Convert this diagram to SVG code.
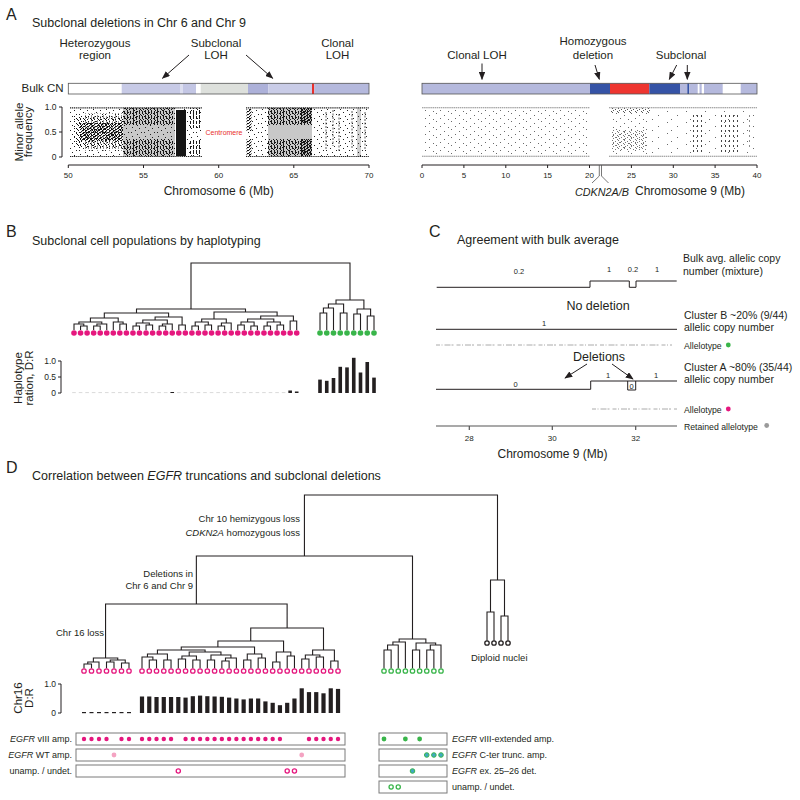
<svg xmlns="http://www.w3.org/2000/svg" width="800" height="800" viewBox="0 0 800 800">
<defs>
<style>
text{font-family:"Liberation Sans",Arial,sans-serif;fill:#231f20}
.pl{font-size:16px}
.ti{font-size:12.5px}
.hd{font-size:11.5px;text-anchor:middle}
.tkr{font-size:8.5px;text-anchor:end}
.tkm{font-size:8px;text-anchor:middle}
.ax{font-size:12px;text-anchor:middle}
.yl{font-size:11.5px;text-anchor:middle}
.lb{font-size:9.5px}
.lbr{font-size:9.5px;text-anchor:end}
.cl{font-size:10.5px}
.al{font-size:8.7px}
.sm{font-size:7.5px;text-anchor:middle}
.eg{font-size:9px}
.egr{font-size:9px;text-anchor:end}
.ln{fill:none;stroke:#231f20;stroke-width:1}
.tr{fill:none;stroke:#231f20;stroke-width:1.1}
.box{fill:#fff;stroke:#7a7a7a;stroke-width:1}
.mg{fill:#e5177e}
.gr{fill:#39b54a}
.pk{fill:#f4a3c2}
.tl{fill:#3fa9c2;stroke:#39b54a;stroke-width:1}
.om{fill:#fff;stroke:#e5177e;stroke-width:1.3}
.og{fill:#fff;stroke:#39b54a;stroke-width:1.3}
.ok{fill:#fff;stroke:#231f20;stroke-width:1.3}
.bar{fill:#231f20}
.arr{stroke:#231f20;stroke-width:1;fill:none;marker-end:url(#ah)}
.dl{fill:none;stroke:#222;stroke-width:1.2;stroke-dasharray:1.2 0.7}
.gl{fill:none;stroke:#8a8a8a;stroke-width:1.1;stroke-dasharray:1.5 0.6}
.al1{fill:none;stroke:#aaa;stroke-width:1;stroke-dasharray:4 1.5 1 2 6 1 2 3}
</style>
<marker id="ah" viewBox="0 0 10 8" refX="9" refY="4" markerWidth="8" markerHeight="6.4" orient="auto" markerUnits="userSpaceOnUse"><path d="M0,0 L10,4 L0,8 z" fill="#231f20"/></marker>
<pattern id="pS" width="13" height="9" patternUnits="userSpaceOnUse"><path d="M2 1h1v1h-1zM9 2h1v1h-1zM5 4h1v1h-1zM11 6h1v1h-1zM1 6h1v1h-1zM7 8h1v1h-1z" fill="#222"/></pattern>
<pattern id="pM" width="7" height="5" patternUnits="userSpaceOnUse"><path d="M1 0h1v1h-1zM4 1h1v1h-1zM2 2h1v1h-1zM6 3h1v1h-1zM0 4h1v1h-1zM3 4h1v1h-1z" fill="#111"/></pattern>
<pattern id="pD" width="4" height="3" patternUnits="userSpaceOnUse"><path d="M0 0h1.2v1h-1.2zM2 1h1.2v1h-1.2zM1 2h1.2v1h-1.2zM3 0h1v1h-1z" fill="#111"/></pattern>
<pattern id="pV" width="6" height="5" patternUnits="userSpaceOnUse"><path d="M1 0h1v4h-1zM4 1h1v3h-1z" fill="#1a1a1a"/></pattern>
<pattern id="pG" width="15" height="8" patternUnits="userSpaceOnUse"><path d="M1 1h1v1h-1zM9 3h1v1h-1zM5 6h1v1h-1zM13 7h1v1h-1z" fill="#6a6a6a"/></pattern>
<pattern id="pGS" width="19" height="11" patternUnits="userSpaceOnUse"><path d="M2 1h1v1h-1zM12 5h1v1h-1zM6 9h1v1h-1z" fill="#6a6a6a"/></pattern>
<pattern id="pGD" width="6" height="4" patternUnits="userSpaceOnUse"><path d="M0 0h1v1h-1zM3 1h1v1h-1zM1 2h1v1h-1zM5 3h1v1h-1z" fill="#555"/></pattern>
<pattern id="pGV" width="4" height="5" patternUnits="userSpaceOnUse"><path d="M1 0h1v2h-1z" fill="#444"/></pattern>
</defs>
<rect width="800" height="800" fill="#fff"/>

<g id="panelA">
<text class="pl" x="6" y="20">A</text>
<text class="ti" x="32" y="27">Subclonal deletions in Chr 6 and Chr 9</text>
<text class="hd" x="95" y="47">Heterozygous</text><text class="hd" x="95" y="59">region</text>
<text class="hd" x="216" y="47">Subclonal</text><text class="hd" x="216" y="59">LOH</text>
<text class="hd" x="337.5" y="47">Clonal</text><text class="hd" x="337.5" y="59">LOH</text>
<text x="21.5" y="92" font-size="11.5">Bulk CN</text>
<g id="bulk6">
<rect x="68.3" y="83.3" width="53.4" height="10.7" fill="#fff"/>
<rect x="121.7" y="83.3" width="58.3" height="10.7" fill="#c7cae6"/>
<rect x="180" y="83.3" width="3" height="10.7" fill="#dcdef0"/>
<rect x="183" y="83.3" width="13" height="10.7" fill="#c3c6e4"/>
<rect x="196" y="83.3" width="4.7" height="10.7" fill="#fff"/>
<rect x="200.7" y="83.3" width="47.3" height="10.7" fill="#dde0dc"/>
<rect x="248" y="83.3" width="20.3" height="10.7" fill="#adb1d9"/>
<rect x="268.3" y="83.3" width="43.7" height="10.7" fill="#c9cce7"/>
<rect x="312" y="83.3" width="2.3" height="10.7" fill="#e8302c"/>
<rect x="314.3" y="83.3" width="54.7" height="10.7" fill="#b5b9dd"/>
<rect x="68.3" y="83.3" width="300.7" height="10.7" fill="none" stroke="#555" stroke-width="0.8"/>
</g>
<text class="yl" transform="translate(22.5,132) rotate(-90)">Minor allele</text>
<text class="yl" transform="translate(32,132) rotate(-90)">frequency</text>
<path class="ln" d="M59 107H62V157H59M59 132H62"/>
<text class="tkr" x="56.5" y="110">1.0</text><text class="tkr" x="56.5" y="135">0.5</text><text class="tkr" x="56.5" y="160">0</text>
<g id="scatter6">
<rect x="123" y="107.5" width="52" height="49.5" fill="#c8c8c8"/>
<rect x="268" y="107.5" width="44" height="49.5" fill="#c8c8c8"/>
<rect x="357" y="107.5" width="4" height="49.5" fill="#cfcfcf"/>
<rect x="70" y="109" width="53" height="47" fill="url(#pS)"/>
<rect x="74" y="116" width="49" height="32" fill="url(#pM)"/>
<rect x="80" y="123" width="43" height="18" fill="url(#pD)"/>
<rect x="84" y="113" width="38" height="38" fill="url(#pV)" opacity="0.45"/>
<rect x="123" y="108" width="52" height="17" fill="url(#pV)"/>
<rect x="123" y="108" width="52" height="17" fill="url(#pM)"/>
<rect x="123" y="125" width="52" height="14" fill="url(#pS)"/>
<rect x="123" y="139" width="52" height="17" fill="url(#pV)"/>
<rect x="123" y="139" width="52" height="17" fill="url(#pM)"/>
<rect x="175" y="108" width="27" height="48" fill="url(#pS)"/>
<rect x="176" y="110" width="10" height="46" fill="#151515"/>
<rect x="189" y="108" width="13" height="20" fill="url(#pV)"/>
<rect x="189" y="140" width="13" height="16" fill="url(#pV)"/>
<rect x="246" y="108" width="22" height="48" fill="url(#pS)"/>
<rect x="246.5" y="109" width="5" height="22" fill="url(#pD)"/>
<rect x="246.5" y="139" width="5" height="17" fill="url(#pD)"/>
<rect x="268" y="108" width="44" height="17" fill="url(#pV)"/>
<rect x="268" y="108" width="44" height="17" fill="url(#pM)"/>
<rect x="268" y="139" width="44" height="17" fill="url(#pV)"/>
<rect x="268" y="139" width="44" height="17" fill="url(#pM)"/>
<rect x="300" y="108" width="12" height="15" fill="url(#pD)"/>
<rect x="300" y="139" width="12" height="17" fill="url(#pD)"/>
<rect x="314" y="108" width="55" height="48" fill="url(#pS)"/>
<path d="M326 112V150M333 110V146M339 114V152M352 111V149M365 112V150" stroke="#333" stroke-width="0.8" stroke-dasharray="2 1.5" fill="none"/>
<path class="dl" d="M70 107.8H202M246 107.8H369M70 156.5H202M246 156.5H369"/>
</g>
<text x="224" y="135" font-size="7" text-anchor="middle" style="fill:#e8302c">Centromere</text>
<path class="ln" d="M68.3 165H369M68.3 165v3M143.5 165v3M218.7 165v3M293.8 165v3M369 165v3"/>
<text class="tkm" x="68.3" y="177.5">50</text><text class="tkm" x="143.5" y="177.5">55</text><text class="tkm" x="218.7" y="177.5">60</text><text class="tkm" x="293.8" y="177.5">65</text><text class="tkm" x="369" y="177.5">70</text>
<text class="ax" x="218.7" y="195">Chromosome 6 (Mb)</text>

<text class="hd" x="477" y="59">Clonal LOH</text>
<text class="hd" x="593" y="44.5">Homozygous</text><text class="hd" x="593" y="59">deletion</text>
<text class="hd" x="681" y="59">Subclonal</text>
<g id="bulk9">
<rect x="422" y="83.3" width="168" height="10.7" fill="#b5b9dd"/>
<rect x="590" y="83.3" width="20" height="10.7" fill="#3553a6"/>
<rect x="610" y="83.3" width="39.3" height="10.7" fill="#ee3530"/>
<rect x="649.3" y="83.3" width="30.7" height="10.7" fill="#3553a6"/>
<rect x="680" y="83.3" width="7.3" height="10.7" fill="#b5b9dd"/>
<rect x="687.3" y="83.3" width="2" height="10.7" fill="#3553a6"/>
<rect x="689.3" y="83.3" width="8.4" height="10.7" fill="#b5b9dd"/>
<rect x="699.5" y="83.3" width="2.2" height="10.7" fill="#b5b9dd"/>
<rect x="704" y="83.3" width="18.7" height="10.7" fill="#b5b9dd"/>
<rect x="740.7" y="83.3" width="16.3" height="10.7" fill="#b5b9dd"/>
<rect x="422" y="83.3" width="335" height="10.7" fill="none" stroke="#555" stroke-width="0.8"/>
</g>
<g id="scatter9">
<rect x="422" y="110" width="168" height="44" fill="url(#pG)"/>
<rect x="610" y="108" width="40" height="5" fill="url(#pGD)"/>
<rect x="610" y="113" width="40" height="41" fill="url(#pG)"/>
<rect x="612" y="130" width="34" height="20" fill="url(#pGD)" opacity="0.8"/>
<rect x="650" y="110" width="32" height="44" fill="url(#pGS)"/>
<rect x="682" y="110" width="75" height="44" fill="url(#pGS)"/>
<rect x="693" y="112" width="12" height="40" fill="url(#pGV)"/>
<rect x="721" y="112" width="20" height="40" fill="url(#pGV)"/>
<rect x="746" y="114" width="7" height="36" fill="url(#pGV)" opacity="0.6"/>
<path class="gl" d="M422 107.7H590M609 107.7H757M422 156.3H590M609 156.3H757"/>
</g>
<path class="ln" d="M422 165H757M422 165v3M463.9 165v3M505.8 165v3M547.6 165v3M589.5 165v3M631.4 165v3M673.3 165v3M715.1 165v3M757 165v3"/>
<text class="tkm" x="422" y="177.5">0</text><text class="tkm" x="463.9" y="177.5">5</text><text class="tkm" x="505.8" y="177.5">10</text><text class="tkm" x="547.6" y="177.5">15</text><text class="tkm" x="589.5" y="177.5">20</text><text class="tkm" x="631.4" y="177.5">25</text><text class="tkm" x="673.3" y="177.5">30</text><text class="tkm" x="715.1" y="177.5">35</text><text class="tkm" x="757" y="177.5">40</text>
<path d="M599.3 165V176L592 183M601.5 165V176L608.5 183" fill="none" stroke="#555" stroke-width="0.8"/>
<text x="575" y="196" font-size="10.8" font-style="italic">CDKN2A/B</text>
<text x="635" y="195" font-size="12">Chromosome 9 (Mb)</text>
</g>

<g id="arrows">
<path class="arr" d="M189 55L162.5 78.3"/>
<path class="arr" d="M246 55L272.7 78.3"/>
<path class="arr" d="M482 63.5V79.3"/>
<path class="arr" d="M595 65L599.3 79.3"/>
<path class="arr" d="M676.7 65L669.3 79.3"/>
<path class="arr" d="M687.3 65V79.3"/>
<path class="arr" d="M587 364L565 378"/>
<path class="arr" d="M612 364L633 379"/>
</g>

<g id="panelB">
<text class="pl" x="6" y="237">B</text>
<text class="ti" x="32" y="244.5">Subclonal cell populations by haplotyping</text>
<path class="tr" d="M80.55 330V326H87.1V330M74 330V324H83.8V326M93.65 330V326H100.2V330M96.9 326V324H106.75V330M78.9 324V322H101.8V324M119.85 330V324H126.4V330M113.3 330V322H123.1V324M90.4 322V318H118.2V322M132.95 330V326H139.5V330M146.05 330V325H152.6V330M136.2 326V323H149.3V325M159.15 330V326H165.7V330M162.4 326V324H172.25V330M142.8 323V320H167.3V324M178.8 330V325H185.35V330M155.1 320V317H182.1V325M104.3 318V313H168.6V317M191.9 330V326H198.45V330M205 330V325H211.55V330M195.2 326V322H208.3V325M218.1 330V326H224.65V330M221.4 326V323H231.2V330M201.7 322V319H226.3V323M237.75 330V325H244.3V330M250.85 330V326H257.4V330M241 325V322H254.1V326M263.95 330V326H270.5V330M277.05 330V325H283.6V330M267.2 326V322H280.3V325M247.6 322V319H273.8V322M290.15 330V321H296.7V330M260.7 319V316H293.4V321M214 319V312H277.1V316M136.5 313V309H245.5V312M320 330V313H326.75V330M323.4 313V308H333.5V330M340.25 330V313H347V330M328.4 308V304H343.6V313M353.75 330V314H360.5V330M367.25 330V316H374V330M357.1 314V309H370.6V316M336 304V300H363.9V309M191 309V263H350V300"/>
<g class="mg">
<circle cx="74" cy="333" r="2.8"/><circle cx="80.55" cy="333" r="2.8"/><circle cx="87.1" cy="333" r="2.8"/><circle cx="93.65" cy="333" r="2.8"/><circle cx="100.2" cy="333" r="2.8"/><circle cx="106.75" cy="333" r="2.8"/><circle cx="113.3" cy="333" r="2.8"/><circle cx="119.85" cy="333" r="2.8"/><circle cx="126.4" cy="333" r="2.8"/><circle cx="132.95" cy="333" r="2.8"/><circle cx="139.5" cy="333" r="2.8"/><circle cx="146.05" cy="333" r="2.8"/><circle cx="152.6" cy="333" r="2.8"/><circle cx="159.15" cy="333" r="2.8"/><circle cx="165.7" cy="333" r="2.8"/><circle cx="172.25" cy="333" r="2.8"/><circle cx="178.8" cy="333" r="2.8"/><circle cx="185.35" cy="333" r="2.8"/><circle cx="191.9" cy="333" r="2.8"/><circle cx="198.45" cy="333" r="2.8"/><circle cx="205" cy="333" r="2.8"/><circle cx="211.55" cy="333" r="2.8"/><circle cx="218.1" cy="333" r="2.8"/><circle cx="224.65" cy="333" r="2.8"/><circle cx="231.2" cy="333" r="2.8"/><circle cx="237.75" cy="333" r="2.8"/><circle cx="244.3" cy="333" r="2.8"/><circle cx="250.85" cy="333" r="2.8"/><circle cx="257.4" cy="333" r="2.8"/><circle cx="263.95" cy="333" r="2.8"/><circle cx="270.5" cy="333" r="2.8"/><circle cx="277.05" cy="333" r="2.8"/><circle cx="283.6" cy="333" r="2.8"/><circle cx="290.15" cy="333" r="2.8"/><circle cx="296.7" cy="333" r="2.8"/>
</g>
<g class="gr">
<circle cx="320" cy="333" r="2.8"/><circle cx="326.75" cy="333" r="2.8"/><circle cx="333.5" cy="333" r="2.8"/><circle cx="340.25" cy="333" r="2.8"/><circle cx="347" cy="333" r="2.8"/><circle cx="353.75" cy="333" r="2.8"/><circle cx="360.5" cy="333" r="2.8"/><circle cx="367.25" cy="333" r="2.8"/><circle cx="374" cy="333" r="2.8"/>
</g>
<text class="yl" transform="translate(22,378) rotate(-90)">Haplotype</text>
<text class="yl" transform="translate(32.5,378) rotate(-90)">ration, D:R</text>
<path class="ln" d="M58 361H61V393H58M58 377H61"/>
<text class="tkr" x="56" y="364">1.0</text><text class="tkr" x="56" y="380">0.5</text><text class="tkr" x="56" y="396">0</text>
<path d="M72.2 392.6H286" stroke="#cfcfcf" stroke-width="0.8" stroke-dasharray="3.6 2.95" fill="none"/>
<g class="bar">
<rect x="170.45" y="392" width="3.6" height="1"/>
<rect x="288.35" y="390.5" width="3.6" height="2.5"/>
<rect x="294.9" y="391.5" width="3.6" height="1.5"/>
<rect x="318.2" y="379.6" width="3.6" height="13.4"/>
<rect x="324.95" y="380.8" width="3.6" height="12.2"/>
<rect x="331.7" y="378" width="3.6" height="15"/>
<rect x="338.45" y="366.8" width="3.6" height="26.2"/>
<rect x="345.2" y="367.4" width="3.6" height="25.6"/>
<rect x="351.95" y="357.8" width="3.6" height="35.2"/>
<rect x="358.7" y="372.5" width="3.6" height="20.5"/>
<rect x="365.45" y="362" width="3.6" height="31"/>
<rect x="372.2" y="377.6" width="3.6" height="15.4"/>
</g>
</g>

<g id="panelC">
<text class="pl" x="429" y="237">C</text>
<text class="ti" x="457" y="243.5">Agreement with bulk average</text>
<path class="ln" d="M436.7 287.3H590V281H629.3V287.3H636V281H676.7"/>
<text class="sm" x="519" y="274">0.2</text><text class="sm" x="609" y="271.5">1</text><text class="sm" x="633" y="271.5">0.2</text><text class="sm" x="657" y="271.5">1</text>
<text class="cl" x="683" y="262">Bulk avg. allelic copy</text><text class="cl" x="683" y="275">number (mixture)</text>
<text x="598" y="310" font-size="12.5" text-anchor="middle">No deletion</text>
<path class="ln" d="M436 329.3H677"/>
<text class="sm" x="544" y="326">1</text>
<text class="cl" x="684" y="319">Cluster B ~20% (9/44)</text><text class="cl" x="684" y="330.5">allelic copy number</text>
<path class="al1" d="M436 345H672"/>
<text class="al" x="684" y="348.5">Allelotype</text>
<circle class="gr" cx="728.3" cy="345" r="2.4"/>
<text x="599" y="360.5" font-size="12.5" text-anchor="middle">Deletions</text>
<path class="ln" d="M436 389.3H590.7V381H677M627.7 381V390H635.7V381"/>
<text class="sm" x="515.7" y="387">0</text><text class="sm" x="608" y="378">1</text><text class="sm" x="631.7" y="388.5">0</text><text class="sm" x="656" y="378">1</text>
<text class="cl" x="684" y="371">Cluster A ~80% (35/44)</text><text class="cl" x="684" y="382.5">allelic copy number</text>
<path class="al1" d="M592 409H677"/>
<text class="al" x="684" y="412.5">Allelotype</text>
<circle class="mg" cx="728.3" cy="409" r="2.4"/>
<path d="M436 426H677M469.3 426v4M552.3 426v4M635.7 426v4" fill="none" stroke="#555" stroke-width="1.2"/>
<text class="tkm" x="469.3" y="441">28</text><text class="tkm" x="552.3" y="441">30</text><text class="tkm" x="635.7" y="441">32</text>
<text class="al" x="684" y="429.5">Retained allelotype</text>
<circle cx="766.7" cy="425.5" r="2.4" fill="#9a9a9a"/>
<text class="ax" x="552.5" y="458">Chromosome 9 (Mb)</text>
</g>

<g id="panelD">
<text class="pl" x="6" y="473">D</text>
<text class="ti" x="32" y="479.5">Correlation between <tspan font-style="italic">EGFR</tspan> truncations and subclonal deletions</text>
<text class="lbr" x="300" y="522">Chr 10 hemizygous loss</text>
<text class="lbr" x="300" y="536"><tspan font-style="italic">CDKN2A</tspan> homozygous loss</text>
<text class="lbr" x="193" y="577">Deletions in</text>
<text class="lbr" x="193" y="588.5">Chr 6 and Chr 9</text>
<text class="lb" x="56" y="635.5">Chr 16 loss</text>
<text class="lb" x="471" y="661">Diploid nuclei</text>
<path class="tr" d="M84 668.5V664H91.5V668.5M87.75 664V662H99V668.5M106.5 668.5V662H114V668.5M121.5 668.5V663H129V668.5M110.25 662V660H125.25V663M93.38 662V658H117.75V660M149.26 668.5V660H156.52V668.5M142 668.5V657H152.89V660M163.78 668.5V660H171.04V668.5M147.45 657V654H167.41V660M178.3 668.5V659H185.56V668.5M192.82 668.5V660H200.08V668.5M181.93 659V656H196.45V660M207.34 668.5V660H214.6V668.5M221.86 668.5V661H229.12V668.5M225.49 661V658H236.38V668.5M210.97 660V655H230.94V658M189.19 656V652H220.96V655M157.43 654V650H205.08V652M243.64 668.5V660H250.9V668.5M258.16 668.5V658H265.42V668.5M247.27 660V654H261.79V658M181.25 650V647H254.53V654M272.68 668.5V662H279.94V668.5M287.2 668.5V656H294.46V668.5M276.31 662V652H290.83V656M217.89 647V641H283.57V652M301.72 668.5V659H308.98V668.5M316.24 668.5V657H323.5V668.5M305.35 659V655H319.87V657M330.76 668.5V661H338.02V668.5M312.61 655V650H334.39V661M250.73 641V628H323.5V650M105.56 658V604H287.12V628M384 668.5V650H391.13V668.5M387.56 650V645H398.25V668.5M392.91 645V642H405.38V668.5M412.5 668.5V650H419.63V668.5M426.75 668.5V650H433.88V668.5M430.31 650V645H441V668.5M416.06 650V643H435.66V645M399.14 642V639H425.86V643M487 640.8V612H494V640.8M501 640.8V616H508V640.8M490.5 612V580H504.5V616M196.36 604V556H412.5V639M304.43 556V495H497.5V580"/>
<g class="om">
<circle cx="84" cy="671" r="2.2"/><circle cx="91.5" cy="671" r="2.2"/><circle cx="99" cy="671" r="2.2"/><circle cx="106.5" cy="671" r="2.2"/><circle cx="114" cy="671" r="2.2"/><circle cx="121.5" cy="671" r="2.2"/><circle cx="129" cy="671" r="2.2"/>
<circle cx="142" cy="671" r="2.2"/><circle cx="149.26" cy="671" r="2.2"/><circle cx="156.52" cy="671" r="2.2"/><circle cx="163.78" cy="671" r="2.2"/><circle cx="171.04" cy="671" r="2.2"/><circle cx="178.3" cy="671" r="2.2"/><circle cx="185.56" cy="671" r="2.2"/><circle cx="192.82" cy="671" r="2.2"/><circle cx="200.08" cy="671" r="2.2"/><circle cx="207.34" cy="671" r="2.2"/><circle cx="214.6" cy="671" r="2.2"/><circle cx="221.86" cy="671" r="2.2"/><circle cx="229.12" cy="671" r="2.2"/><circle cx="236.38" cy="671" r="2.2"/><circle cx="243.64" cy="671" r="2.2"/><circle cx="250.9" cy="671" r="2.2"/><circle cx="258.16" cy="671" r="2.2"/><circle cx="265.42" cy="671" r="2.2"/><circle cx="272.68" cy="671" r="2.2"/><circle cx="279.94" cy="671" r="2.2"/><circle cx="287.2" cy="671" r="2.2"/><circle cx="294.46" cy="671" r="2.2"/><circle cx="301.72" cy="671" r="2.2"/><circle cx="308.98" cy="671" r="2.2"/><circle cx="316.24" cy="671" r="2.2"/><circle cx="323.5" cy="671" r="2.2"/><circle cx="330.76" cy="671" r="2.2"/><circle cx="338.02" cy="671" r="2.2"/>
</g>
<g class="og">
<circle cx="384" cy="671" r="2.2"/><circle cx="391.13" cy="671" r="2.2"/><circle cx="398.25" cy="671" r="2.2"/><circle cx="405.38" cy="671" r="2.2"/><circle cx="412.5" cy="671" r="2.2"/><circle cx="419.63" cy="671" r="2.2"/><circle cx="426.75" cy="671" r="2.2"/><circle cx="433.88" cy="671" r="2.2"/><circle cx="441" cy="671" r="2.2"/>
</g>
<g class="ok">
<circle cx="487" cy="643" r="2.2"/><circle cx="494" cy="643" r="2.2"/><circle cx="501" cy="643" r="2.2"/><circle cx="508" cy="643" r="2.2"/>
</g>
<text class="yl" transform="translate(21.5,698) rotate(-90)">Chr16</text>
<text class="yl" transform="translate(32.5,698) rotate(-90)">D:R</text>
<path class="ln" d="M58 684H61V713H58"/>
<text class="tkr" x="56" y="687">1.0</text><text class="tkr" x="56" y="716">0</text>
<g class="bar">
<rect x="82" y="712" width="4" height="1.2"/><rect x="89.5" y="712" width="4" height="1.2"/><rect x="97" y="712" width="4" height="1.2"/><rect x="104.5" y="712" width="4" height="1.2"/><rect x="112" y="712" width="4" height="1.2"/><rect x="119.5" y="712" width="4" height="1.2"/><rect x="127" y="712" width="4" height="1.2"/>
<rect x="139.9" y="696.5" width="4.2" height="16.5"/>
<rect x="147.16" y="696.5" width="4.2" height="16.5"/>
<rect x="154.42" y="697" width="4.2" height="16"/>
<rect x="161.68" y="697" width="4.2" height="16"/>
<rect x="168.94" y="697" width="4.2" height="16"/>
<rect x="176.2" y="697" width="4.2" height="16"/>
<rect x="183.46" y="697.6" width="4.2" height="15.4"/>
<rect x="190.72" y="696.2" width="4.2" height="16.8"/>
<rect x="197.98" y="695.6" width="4.2" height="17.4"/>
<rect x="205.24" y="696.2" width="4.2" height="16.8"/>
<rect x="212.5" y="696.5" width="4.2" height="16.5"/>
<rect x="219.76" y="696.8" width="4.2" height="16.2"/>
<rect x="227.02" y="697.6" width="4.2" height="15.4"/>
<rect x="234.28" y="698.5" width="4.2" height="14.5"/>
<rect x="241.54" y="699.4" width="4.2" height="13.6"/>
<rect x="248.8" y="698.5" width="4.2" height="14.5"/>
<rect x="256.06" y="698.5" width="4.2" height="14.5"/>
<rect x="263.32" y="701.4" width="4.2" height="11.6"/>
<rect x="270.58" y="702.8" width="4.2" height="10.2"/>
<rect x="277.84" y="705.2" width="4.2" height="7.8"/>
<rect x="285.1" y="702.8" width="4.2" height="10.2"/>
<rect x="292.36" y="698.5" width="4.2" height="14.5"/>
<rect x="299.62" y="688.3" width="4.2" height="24.7"/>
<rect x="306.88" y="692.1" width="4.2" height="20.9"/>
<rect x="314.14" y="692.1" width="4.2" height="20.9"/>
<rect x="321.4" y="693.3" width="4.2" height="19.7"/>
<rect x="328.66" y="688.3" width="4.2" height="24.7"/>
<rect x="335.92" y="688.9" width="4.2" height="24.1"/>
</g>
<g id="egfrA">
<rect class="box" x="76" y="733" width="269" height="12"/>
<rect class="box" x="76" y="749" width="269" height="12"/>
<rect class="box" x="76" y="765" width="269" height="12"/>
<text class="egr" x="72" y="742.2"><tspan font-style="italic">EGFR</tspan> vIII amp.</text>
<text class="egr" x="72" y="758.2"><tspan font-style="italic">EGFR</tspan> WT amp.</text>
<text class="egr" x="72" y="774.2">unamp. / undet.</text>
<g class="mg">
<circle cx="84" cy="739" r="2.2"/><circle cx="91.5" cy="739" r="2.2"/><circle cx="99" cy="739" r="2.2"/><circle cx="106.5" cy="739" r="2.2"/><circle cx="121.5" cy="739" r="2.2"/><circle cx="129" cy="739" r="2.2"/>
<circle cx="142" cy="739" r="2.2"/><circle cx="149.26" cy="739" r="2.2"/><circle cx="156.52" cy="739" r="2.2"/><circle cx="163.78" cy="739" r="2.2"/><circle cx="171.04" cy="739" r="2.2"/>
<circle cx="185.56" cy="739" r="2.2"/><circle cx="192.82" cy="739" r="2.2"/><circle cx="200.08" cy="739" r="2.2"/><circle cx="207.34" cy="739" r="2.2"/><circle cx="214.6" cy="739" r="2.2"/><circle cx="221.86" cy="739" r="2.2"/><circle cx="229.12" cy="739" r="2.2"/><circle cx="236.38" cy="739" r="2.2"/><circle cx="243.64" cy="739" r="2.2"/><circle cx="250.9" cy="739" r="2.2"/><circle cx="258.16" cy="739" r="2.2"/><circle cx="265.42" cy="739" r="2.2"/><circle cx="272.68" cy="739" r="2.2"/><circle cx="279.94" cy="739" r="2.2"/>
<circle cx="308.98" cy="739" r="2.2"/><circle cx="316.24" cy="739" r="2.2"/><circle cx="323.5" cy="739" r="2.2"/><circle cx="330.76" cy="739" r="2.2"/><circle cx="338.02" cy="739" r="2.2"/>
</g>
<circle class="pk" cx="114" cy="755" r="2.4"/><circle class="pk" cx="301.72" cy="755" r="2.4"/>
<circle class="om" cx="178.3" cy="771" r="2.1"/><circle class="om" cx="287.2" cy="771" r="2.1"/><circle class="om" cx="294.46" cy="771" r="2.1"/>
</g>
<g id="egfrB">
<rect class="box" x="379" y="733" width="68" height="12"/>
<rect class="box" x="379" y="749" width="68" height="12"/>
<rect class="box" x="379" y="765" width="68" height="12"/>
<rect class="box" x="379" y="781" width="68" height="12"/>
<text class="eg" x="452" y="742.2"><tspan font-style="italic">EGFR</tspan> vIII-extended amp.</text>
<text class="eg" x="452" y="758.2"><tspan font-style="italic">EGFR</tspan> C-ter trunc. amp.</text>
<text class="eg" x="452" y="774.2"><tspan font-style="italic">EGFR</tspan> ex. 25–26 det.</text>
<text class="eg" x="452" y="790.2">unamp. / undet.</text>
<circle class="gr" cx="384" cy="739" r="2.4"/><circle class="gr" cx="405.38" cy="739" r="2.4"/><circle class="gr" cx="419.63" cy="739" r="2.4"/>
<circle class="tl" cx="426.75" cy="755" r="2.3"/><circle class="tl" cx="433.88" cy="755" r="2.3"/><circle class="tl" cx="441" cy="755" r="2.3"/>
<circle class="tl" cx="412.5" cy="771" r="2.3"/>
<circle class="og" cx="391.13" cy="787" r="2.1"/><circle class="og" cx="398.25" cy="787" r="2.1"/>
</g>
</g>
</svg>
